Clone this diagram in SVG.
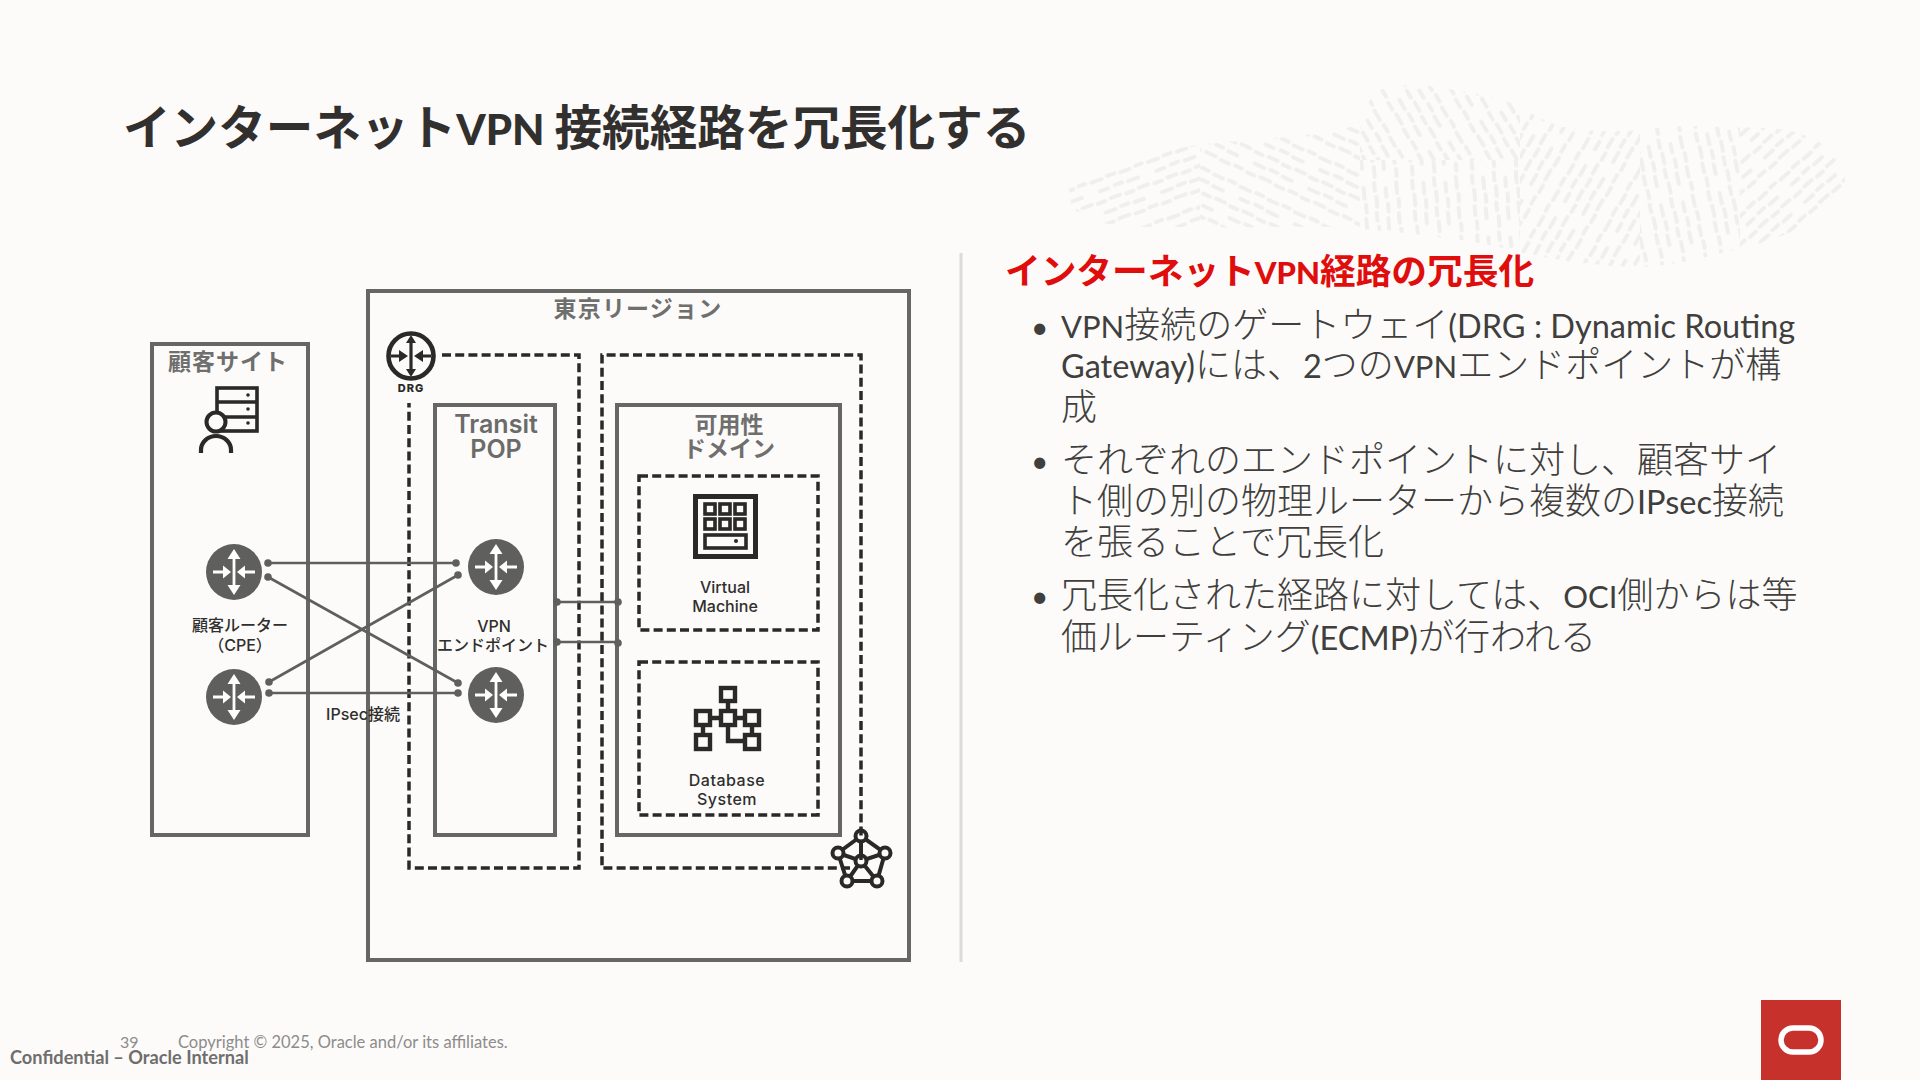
<svg xmlns="http://www.w3.org/2000/svg" width="1920" height="1080" viewBox="0 0 1920 1080">
<style>
text{font-family:"Lato","Noto Sans CJK JP",sans-serif}
.box{fill:none;stroke:#666665;stroke-width:4}
.dash{fill:none;stroke:#2a2927;stroke-width:3.5;stroke-dasharray:9 4.2}
.conn{fill:none;stroke:#5f5f5e;stroke-width:2.6}
.dot{fill:#5f5f5e}
.lbl{font-family:"Inter","Noto Sans CJK JP",sans-serif;text-anchor:middle}
.head{font-size:23px;font-weight:700;fill:#6f6f6e}
.pop{font-size:25px;font-weight:600;fill:#6b6b6a}
.small{font-size:16px;font-weight:500;fill:#2f2f2d}
.ic{fill:none;stroke:#2a2927}
.nd{fill:#fcfbfa;stroke:#2a2927;stroke-width:4}
.body{font-size:36px;fill:#403f3d;font-weight:300}
.lat{font-size:32.5px;font-weight:400}
.vpn{font-size:31px;font-weight:400}
.bul{font-size:30px;font-weight:400}
.rarrow{fill:none;stroke:#fff;stroke-width:2.8}
.rhead{fill:#fff}
.tile{stroke:#f0efed;stroke-width:3.8;stroke-linecap:round;fill:none}
</style>
<defs>
<pattern id="p0" width="60" height="60" patternUnits="userSpaceOnUse">
<path class="tile" d="M3 5h11M20 4h8M34 5h10M50 4h7M8 16h9M24 15h8M38 16h11M2 27h8M16 26h10M32 27h8M46 26h10M6 38h11M23 37h8M37 38h10M3 49h8M17 48h11M34 49h9M49 48h8"/>
</pattern>
<pattern id="p1" href="#p0" patternTransform="rotate(-20)"/>
<pattern id="p2" href="#p0" patternTransform="rotate(25)"/>
<pattern id="p3" href="#p0" patternTransform="rotate(60)"/>
<pattern id="p4" href="#p0" patternTransform="rotate(85)"/>
<pattern id="p5" href="#p0" patternTransform="rotate(-60)"/>
<pattern id="p6" href="#p0" patternTransform="rotate(78)"/>
<pattern id="p7" href="#p0" patternTransform="rotate(-42)"/>
<clipPath id="blob"><path d="M1069 190C1075 175 1090 168 1103 163C1140 152 1170 150 1197 145C1240 140 1285 138 1322 133C1340 130 1352 128 1359 123C1365 110 1370 95 1380 90C1400 84 1420 84 1437 87C1465 92 1490 95 1511 103C1530 112 1545 122 1563 127C1590 132 1615 132 1641 130C1670 126 1695 125 1720 127C1750 128 1775 126 1798 133C1825 142 1840 155 1845 170C1847 190 1838 203 1824 213C1800 230 1775 240 1746 247C1710 256 1675 266 1641 267C1595 266 1550 260 1511 250C1485 243 1460 240 1437 237C1400 232 1365 229 1328 227C1285 226 1240 228 1197 227C1160 227 1130 228 1103 223C1085 218 1072 210 1071 203Z"/></clipPath>
<g id="router"><circle r="28" fill="#5f5f5e"/><path class="rarrow" d="M0-16V16M-21 0H-7M21 0H7"/><path class="rhead" d="M0-23l-6.5 10H6.5ZM0 23l-6.5-10H6.5ZM-3 0l-8-6.5V6.5ZM3 0l8-6.5V6.5Z"/></g>
</defs>
<rect width="1920" height="1080" fill="#fcfbfa"/>
<g id="watermark" clip-path="url(#blob)">
<rect x="1060" y="80" width="140" height="200" fill="url(#p1)"/>
<rect x="1200" y="80" width="160" height="200" fill="url(#p2)"/>
<rect x="1360" y="80" width="160" height="80" fill="url(#p3)"/>
<rect x="1360" y="160" width="160" height="120" fill="url(#p4)"/>
<rect x="1520" y="80" width="120" height="200" fill="url(#p5)"/>
<rect x="1640" y="80" width="100" height="200" fill="url(#p6)"/>
<rect x="1740" y="80" width="110" height="200" fill="url(#p7)"/>
</g>
<text id="title" x="123" y="145" font-size="47.6" font-weight="700" fill="#32302e">インターネット<tspan font-size="42" font-weight="900">VPN </tspan>接続経路を冗長化する</text>
<line id="divider" x1="961" y1="253" x2="961" y2="962" stroke="#dcdbd9" stroke-width="3"/>

<g id="tokyo-region"><rect class="box" x="368" y="291" width="541" height="669"/><text class="lbl head" x="638" y="317" letter-spacing="1.2">東京リージョン</text></g>
<g id="customer-site"><rect class="box" x="152" y="344" width="156" height="491"/><text class="lbl head" x="228" y="370" letter-spacing="1">顧客サイト</text>
<g class="ic" stroke-width="3.6"><rect x="217" y="388" width="40" height="43"/><path d="M217 402H257M217 417H257"/></g><g fill="#2a2927"><circle cx="248" cy="395" r="1.8"/><circle cx="248" cy="409" r="1.8"/><circle cx="248" cy="423" r="1.8"/></g>
<circle class="nd" cx="216" cy="422" r="9.5"/><path class="ic" stroke-width="4.2" d="M201 453V450A15 14 0 0 1 231 450V453"/></g>
<g id="network-icon"><path class="ic" stroke-width="4" d="M861 836L838 853L847 881H877L885 853ZM861 836V861M838 853L861 861L885 853M847 881L861 861L877 881"/><circle class="nd" cx="861" cy="836" r="5.5"/><circle class="nd" cx="838" cy="853" r="5.5"/><circle class="nd" cx="885" cy="853" r="5.5"/><circle class="nd" cx="847" cy="881" r="5.5"/><circle class="nd" cx="877" cy="881" r="5.5"/><circle class="nd" cx="861" cy="861" r="5.5"/></g>
<g id="vcn-left"><path class="dash" d="M442 355H579V868H409V403"/></g>
<g id="vcn-right"><path class="dash" d="M850 868H602V355H861V860"/></g>
<g id="transit-pop"><rect class="box" x="435" y="405" width="120" height="430"/><text class="lbl pop" x="496" y="433">Transit</text><text class="lbl pop" x="496" y="458">POP</text></g>
<g id="availability-domain"><rect class="box" x="617" y="405" width="223" height="430"/><text class="lbl head" x="729" y="433">可用性</text><text class="lbl head" x="729" y="457">ドメイン</text></g>
<g id="virtual-machine"><rect class="dash" x="639" y="476" width="179" height="154"/>
<rect class="ic" x="695.5" y="496.5" width="60" height="60" stroke-width="5"/>
<g class="ic" stroke-width="3.6"><rect x="705" y="504" width="10" height="10"/><rect x="720" y="504" width="10" height="10"/><rect x="735" y="504" width="10" height="10"/><rect x="705" y="519" width="10" height="10"/><rect x="720" y="519" width="10" height="10"/><rect x="735" y="519" width="10" height="10"/><rect x="705" y="535" width="41" height="13"/></g><circle cx="736" cy="541" r="2" fill="#2a2927"/>
<text class="lbl small" x="725" y="593">Virtual</text><text class="lbl small" x="725" y="612">Machine</text></g>
<g id="database-system"><rect class="dash" x="639" y="662" width="179" height="153"/>
<g class="ic" stroke-width="4.4"><rect x="721" y="688" width="14" height="13"/><rect x="696" y="711" width="14" height="14"/><rect x="721" y="711" width="14" height="14"/><rect x="745" y="711" width="14" height="14"/><rect x="696" y="735" width="14" height="14"/><rect x="745" y="735" width="14" height="14"/><path d="M728 701V711M710 718H721M735 718H745M703 725V735M752 725V735M728 725V741H745"/></g>
<text class="lbl small" x="727" y="786" letter-spacing="0.5">Database</text><text class="lbl small" x="727" y="805" letter-spacing="0.5">System</text></g>

<g id="connectors">
<path class="conn" d="M268 563H456M268 577L458 683M269 682L458 575M269 693H458M557 602H618M557 642H618"/>
<g class="dot"><circle cx="268" cy="563" r="3.8"/><circle cx="268" cy="577" r="3.8"/><circle cx="269" cy="682" r="3.8"/><circle cx="269" cy="693" r="3.8"/><circle cx="456" cy="563" r="3.8"/><circle cx="458" cy="575" r="3.8"/><circle cx="458" cy="683" r="3.8"/><circle cx="458" cy="693" r="3.8"/><circle cx="557" cy="602" r="3.8"/><circle cx="557" cy="642" r="3.8"/><circle cx="618" cy="602" r="3.8"/><circle cx="618" cy="643" r="3.8"/></g>
</g>
<g id="cpe-router-1"><use href="#router" x="234" y="572"/></g>
<g id="cpe-router-2"><use href="#router" x="234" y="697"/></g>
<g id="vpn-endpoint-1"><use href="#router" x="496" y="567"/></g>
<g id="vpn-endpoint-2"><use href="#router" x="496" y="695"/></g>
<text class="lbl small" x="240" y="631">顧客ルーター</text><text class="lbl small" x="240" y="651">（CPE）</text>
<text class="lbl small" x="494" y="632">VPN</text><text class="lbl small" x="493" y="651">エンドポイント</text>
<text class="lbl small" x="363" y="720">IPsec接続</text>
<g id="drg"><circle cx="411" cy="356" r="22.5" fill="#fcfbfa" stroke="#2a2927" stroke-width="4.6"/><path d="M411 339V373M391 356H403M431 356H419" stroke="#2a2927" stroke-width="3.2" fill="none"/><path d="M411 335l-5 8H416ZM411 377l-5-8H416ZM408 356l-9-6V362ZM414 356l9-6V362Z" fill="#2a2927"/><text class="lbl" x="411" y="392" font-size="11" font-weight="800" fill="#2a2927" letter-spacing="1">DRG</text></g>

<g id="notes">
<text x="1005" y="284" font-size="35.7" font-weight="700" fill="#e00d0d">インターネット<tspan font-size="31" font-weight="900">VPN</tspan>経路の冗長化</text>
<g class="body">
<text class="bul" x="1031" y="338">•</text>
<text x="1061" y="338"><tspan class="vpn">VPN</tspan>接続のゲートウェイ<tspan class="lat">(DRG : Dynamic Routing</tspan></text>
<text x="1061" y="378"><tspan class="lat">Gateway)</tspan>には、<tspan class="lat">2</tspan>つの<tspan class="vpn">VPN</tspan>エンドポイントが構</text>
<text x="1061" y="420">成</text>
<text class="bul" x="1031" y="472">•</text>
<text x="1061" y="473">それぞれのエンドポイントに対し、顧客サイ</text>
<text x="1061" y="514">ト側の別の物理ルーターから複数の<tspan class="lat">IPsec</tspan>接続</text>
<text x="1061" y="555">を張ることで冗長化</text>
<text class="bul" x="1031" y="607">•</text>
<text x="1061" y="608">冗長化された経路に対しては、<tspan class="lat" font-size="31" style="font-size:31px">OCI</tspan>側からは等</text>
<text x="1061" y="650">価ルーティング<tspan class="lat">(ECMP)</tspan>が行われる</text>
</g></g>

<g id="footer">
<text x="120" y="1048" font-size="16" fill="#8d8c8a">39</text>
<text x="178" y="1048" font-size="16.5" fill="#8d8c8a">Copyright © 2025, Oracle and/or its affiliates.</text>
<text x="10" y="1064" font-size="18.2" fill="#6f6e6c" font-weight="700">Confidential – Oracle Internal</text>
</g>
<g id="oracle-logo"><rect x="1761" y="1000" width="80" height="80" fill="#c7312b"/><rect x="1781" y="1028" width="40" height="24" rx="12" fill="none" stroke="#fff" stroke-width="5.5"/></g>
</svg>
